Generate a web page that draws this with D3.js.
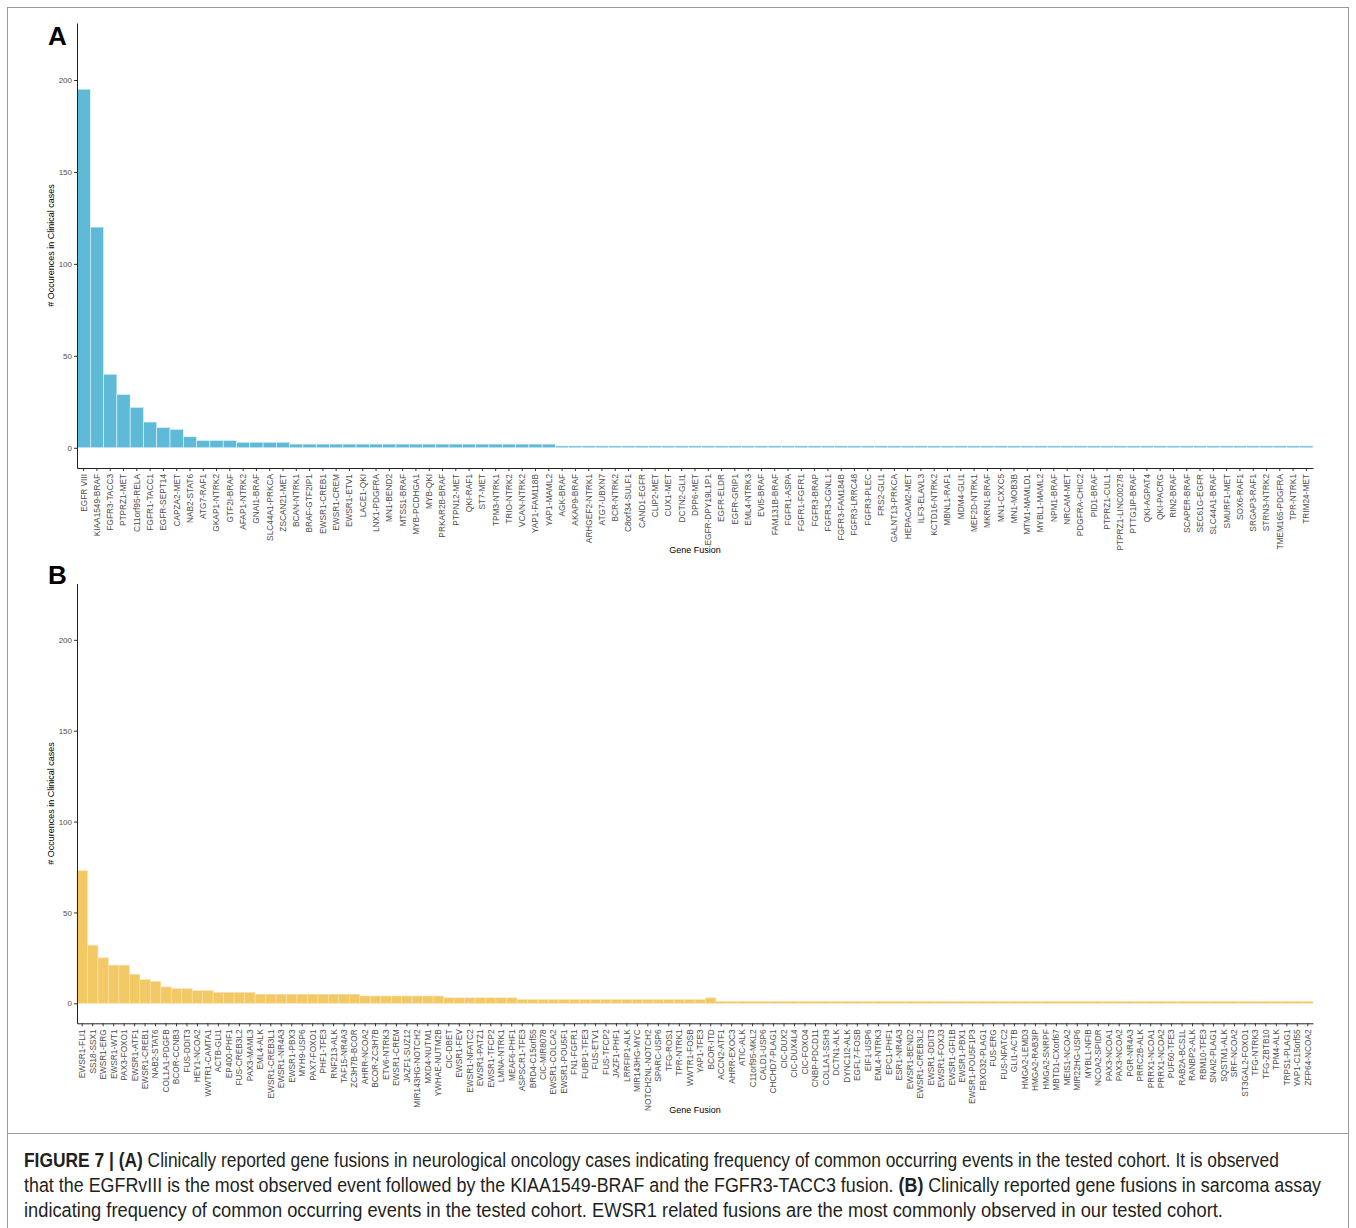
<!DOCTYPE html>
<html>
<head>
<meta charset="utf-8">
<script src="https://cdn.jsdelivr.net/npm/d3@7"></script>
<style>
  html, body { margin: 0; padding: 0; background: #fff; }
  svg { display: block; }
</style>
</head>
<body>
<svg id="fig" width="1356" height="1228"></svg>
<script>
// ---------------- DATA ----------------
const neuroFusions = [
  "EGFR VIII","KIAA1549-BRAF","FGFR3-TACC3","PTPRZ1-MET","C11orf95-RELA","FGFR1-TACC1",
  "EGFR-SEPT14","CAPZA2-MET","NAB2-STAT6","ATG7-RAF1","GKAP1-NTRK2","GTF2I-BRAF",
  "AFAP1-NTRK2","GNAI1-BRAF","SLC44A1-PRKCA","ZSCAN21-MET","BCAN-NTRK1","BRAF-GTF2IP1",
  "EWSR1-CREB1","EWSR1-CREM","EWSR1-ETV1","LACE1-QKI","LNX1-PDGFRA","MN1-BEND2",
  "MTSS1-BRAF","MYB-PCDHGA1","MYB-QKI","PRKAR2B-BRAF","PTPN12-MET","QKI-RAF1","ST7-MET",
  "TPM3-NTRK1","TRIO-NTRK2","VCAN-NTRK2","YAP1-FAM118B","YAP1-MAML2","AGK-BRAF",
  "AKAP9-BRAF","ARHGEF2-NTRK1","ATG7-UBXN7","BCR-NTRK2","C8orf34-SULF1","CAND1-EGFR",
  "CLIP2-MET","CUX1-MET","DCTN2-GLI1","DPP6-MET","EGFR-DPY19L1P1","EGFR-ELDR",
  "EGFR-GRIP1","EML4-NTRK3","EVI5-BRAF","FAM131B-BRAF","FGFR1-ASPA","FGFR1-FGFR1",
  "FGFR3-BRAP","FGFR3-CGNL1","FGFR3-FAM184B","FGFR3-LRRC48","FGFR3-PLEC","FRS2-GLI1",
  "GALNT13-PRKCA","HEPACAM2-MET","ILF3-ELAVL3","KCTD16-NTRK2","MBNL1-RAF1","MDM4-GLI1",
  "MEF2D-NTRK1","MKRN1-BRAF","MN1-CXXC5","MN1-MOB3B","MTM1-MAMLD1","MYBL1-MAML2",
  "NPM1-BRAF","NRCAM-MET","PDGFRA-CHIC2","PID1-BRAF","PTPRZ1-CUL1","PTPRZ1-LINC00278",
  "PTTG1IP-BRAF","QKI-AGPAT4","QKI-PACRG","RIN2-BRAF","SCAPER-BRAF","SEC61G-EGFR",
  "SLC44A1-BRAF","SMURF1-MET","SOX6-RAF1","SRGAP3-RAF1","STRN3-NTRK2","TMEM165-PDGFRA",
  "TPR-NTRK1","TRIM24-MET"
];
const neuroCounts = [
  195,120,40,29,22,14,11,10,6,4,4,4,3,3,3,3,
  2,2,2,2,2,2,2,2,2,2,2,2,2,2,2,2,2,2,2,2,
  1,1,1,1,1,1,1,1,1,1,1,1,1,1,1,1,1,1,1,1,1,1,1,1,1,1,1,1,1,1,1,1,1,1,1,1,1,1,1,1,1,1,1,1,1,1,1,1,1,1,1,1,1,1,1,1,1
];

const sarcomaFusions = [
  "EWSR1-FLI1","SS18-SSX1","EWSR1-ERG","EWSR1-WT1","PAX3-FOXO1","EWSR1-ATF1",
  "EWSR1-CREB1","NAB2-STAT6","COL1A1-PDGFB","BCOR-CCNB3","FUS-DDIT3","HEY1-NCOA2",
  "WWTR1-CAMTA1","ACTB-GLI1","EP400-PHF1","FUS-CREB3L2","PAX3-MAML3","EML4-ALK",
  "EWSR1-CREB3L1","EWSR1-NR4A3","EWSR1-PBX3","MYH9-USP6","PAX7-FOXO1","PHF1-TFE3",
  "RNF213-ALK","TAF15-NR4A3","ZC3H7B-BCOR","AHRR-NCOA2","BCOR-ZC3H7B","ETV6-NTRK3",
  "EWSR1-CREM","JAZF1-SUZ12","MIR143HG-NOTCH2","MXD4-NUTM1","YWHAE-NUTM2B","CIC-DBET",
  "EWSR1-FEV","EWSR1-NFATC2","EWSR1-PATZ1","EWSR1-TFCP2","LMNA-NTRK1","MEAF6-PHF1",
  "ASPSCR1-TFE3","BRD4-C15orf55","CIC-MIR8078","EWSR1-COLCA2","EWSR1-POU5F1","FN1-FGFR1",
  "FUBP1-TFE3","FUS-ETV1","FUS-TFCP2","JAZF1-PHF1","LRRFIP1-ALK","MIR143HG-MYC",
  "NOTCH2NL-NOTCH2","SPARC-USP6","TFG-ROS1","TPR-NTRK1","WWTR1-FOSB","YAP1-TFE3",
  "BCOR-ITD","ACCN2-ATF1","AHRR-EXOC3","ATIC-ALK","C11orf95-MKL2","CALD1-USP6",
  "CHCHD7-PLAG1","CIC-DUX2","CIC-DUX4L4","CIC-FOXO4","CNBP-PDCD11","COL1A1-SSH3",
  "DCTN1-ALK","DYNC1I2-ALK","EGFL7-FOSB","EIF1-USP6","EML4-NTRK3","EPC1-PHF1",
  "ESR1-NR4A3","EWSR1-BEND2","EWSR1-CREB3L2","EWSR1-DDIT3","EWSR1-FOXJ3","EWSR1-GFI1B",
  "EWSR1-PBX1","EWSR1-POU5F1P3","FBXO32-PLAG1","FUS-ERG","FUS-NFATC2","GLI1-ACTB",
  "HMGA2-LEMD3","HMGA2-RAB3IP","HMGA2-SNRPF","MBTD1-CXorf67","MEIS1-NCOA2","MIR22HG-USP6",
  "MYBL1-NFIB","NCOA2-SPIDR","PAX3-NCOA1","PAX3-NCOA2","PGR-NR4A3","PRRC2B-ALK",
  "PRRX1-NCOA1","PRRX1-NCOA2","PUF60-TFE3","RAB2A-BCS1L","RANBP2-ALK","RBM10-TFE3",
  "SNAI2-PLAG1","SQSTM1-ALK","SRF-NCOA2","ST3GAL2-FOXO1","TFG-NTRK3","TFG-ZBTB10",
  "TPM4-ALK","TRPS1-PLAG1","YAP1-C15orf55","ZFP64-NCOA2"
];
const sarcomaCounts = [
  73,32,25,21,21,16,13,12,9,8,8,7,7,6,6,6,6,
  5,5,5,5,5,5,5,5,5,5,
  4,4,4,4,4,4,4,4,
  3,3,3,3,3,3,3,
  2,2,2,2,2,2,2,2,2,2,2,2,2,2,2,2,2,2,
  3,
  1,1,1,1,1,1,1,1,1,1,1,1,1,1,1,1,1,1,1,1,1,1,1,1,1,1,1,1,1,1,1,1,1,1,1,1,1,1,1,1,1,1,1,1,1,1,1,1,1,1,1,1,1,1,1,1,1
];

const yTicks = [0, 50, 100, 150, 200];
const yTitle = "# Occurences in Clinical cases";
const xTitle = "Gene Fusion";

const captionLines = [
  [["FIGURE 7 | (A)", true], [" Clinically reported gene fusions in neurological oncology cases indicating frequency of common occurring events in the tested cohort. It is observed", false]],
  [["that the EGFRvIII is the most observed event followed by the KIAA1549-BRAF and the FGFR3-TACC3 fusion. ", false], ["(B)", true], [" Clinically reported gene fusions in sarcoma assay", false]],
  [["indicating frequency of common occurring events in the tested cohort. EWSR1 related fusions are the most commonly observed in our tested cohort.", false]]
];

// ---------------- DRAW ----------------
const svg = d3.select("#fig");
const font = "'Liberation Sans', Arial, Helvetica, sans-serif";

// figure frame
svg.append("rect").attr("x", 7.5).attr("y", 7.5).attr("width", 1341).attr("height", 1230)
  .attr("fill", "none").attr("stroke", "#9a9a9a").attr("stroke-width", 1);
svg.append("line").attr("x1", 7.5).attr("x2", 1348.5).attr("y1", 1133.5).attr("y2", 1133.5)
  .attr("stroke", "#9a9a9a").attr("stroke-width", 1);

const panels = [
  { letter: "A", cats: neuroFusions, vals: neuroCounts, color: "#5fbad7", sep: "#e8f5fa",
    top: 23, bottom: 468, letterY: 45, xTitleY: 553 },
  { letter: "B", cats: sarcomaFusions, vals: sarcomaCounts, color: "#f2c965", sep: "#f8e3ad",
    top: 583.5, bottom: 1023.3, letterY: 584, xTitleY: 1113 }
];

const left = 77, right = 1313;

panels.forEach(p => {
  const g = svg.append("g");
  const x = d3.scaleBand().domain(p.cats).range([left, right]).padding(0);
  const y = d3.scaleLinear().domain([-11, 231]).range([p.bottom, p.top]);

  // bars
  g.append("g").selectAll("rect").data(p.cats.map((c, i) => ({ c, v: p.vals[i] })))
    .join("rect")
    .attr("x", d => x(d.c))
    .attr("width", x.bandwidth())
    .attr("y", d => y(d.v))
    .attr("height", d => y(0) - y(d.v))
    .attr("fill", p.color)
    .attr("stroke", p.sep)
    .attr("stroke-width", 0.6);

  // y axis
  const ya = g.append("g").attr("transform", `translate(${left},0)`)
    .call(d3.axisLeft(y).tickValues(yTicks).tickSize(3).tickSizeOuter(0).tickPadding(2));
  ya.select(".domain").attr("stroke", "#222").attr("stroke-width", 1);
  ya.selectAll(".tick line").attr("stroke", "#333");
  ya.selectAll(".tick text").attr("fill", "#4d4d4d").style("font-family", font).style("font-size", "8px");

  // x axis
  const xa = g.append("g").attr("transform", `translate(0,${p.bottom})`)
    .call(d3.axisBottom(x).tickSize(3).tickSizeOuter(0));
  xa.select(".domain").attr("stroke", "#222").attr("stroke-width", 1);
  xa.selectAll(".tick line").attr("stroke", "#333");
  xa.selectAll(".tick text")
    .attr("fill", "#4d4d4d")
    .style("font-family", font).style("font-size", "8.3px")
    .attr("transform", "rotate(-90)")
    .attr("x", -6).attr("y", 0).attr("dy", "0.35em")
    .style("text-anchor", "end");

  // titles
  g.append("text")
    .attr("transform", `translate(54,${(p.top + p.bottom) / 2}) rotate(-90)`)
    .attr("text-anchor", "middle")
    .style("font-family", font).style("font-size", "9px").attr("fill", "#000")
    .text(yTitle);
  g.append("text")
    .attr("x", (left + right) / 2).attr("y", p.xTitleY)
    .attr("text-anchor", "middle")
    .style("font-family", font).style("font-size", "9px").attr("fill", "#000")
    .text(xTitle);

  // panel letter
  g.append("text")
    .attr("x", 48).attr("y", p.letterY)
    .style("font-family", font).style("font-size", "26px").style("font-weight", "bold")
    .attr("fill", "#000")
    .text(p.letter);
});

// caption
const capWidths = [1255, 1298, 1200];
const capBase = [1167, 1192, 1217];
captionLines.forEach((line, i) => {
  const t = svg.append("text")
    .attr("x", 24).attr("y", capBase[i])
    .style("font-family", "'Liberation Sans Narrow', 'Liberation Sans', Arial, sans-serif")
    .style("font-size", "19.5px").attr("fill", "#231f20");
  line.forEach(([s, b]) => {
    t.append("tspan").text(s).style("font-weight", b ? "bold" : "normal");
  });
  const w = t.node().getComputedTextLength();
  const k = capWidths[i] / w;
  t.attr("transform", `translate(24,0) scale(${k},1) translate(-24,0)`);
});
</script>
</body>
</html>
